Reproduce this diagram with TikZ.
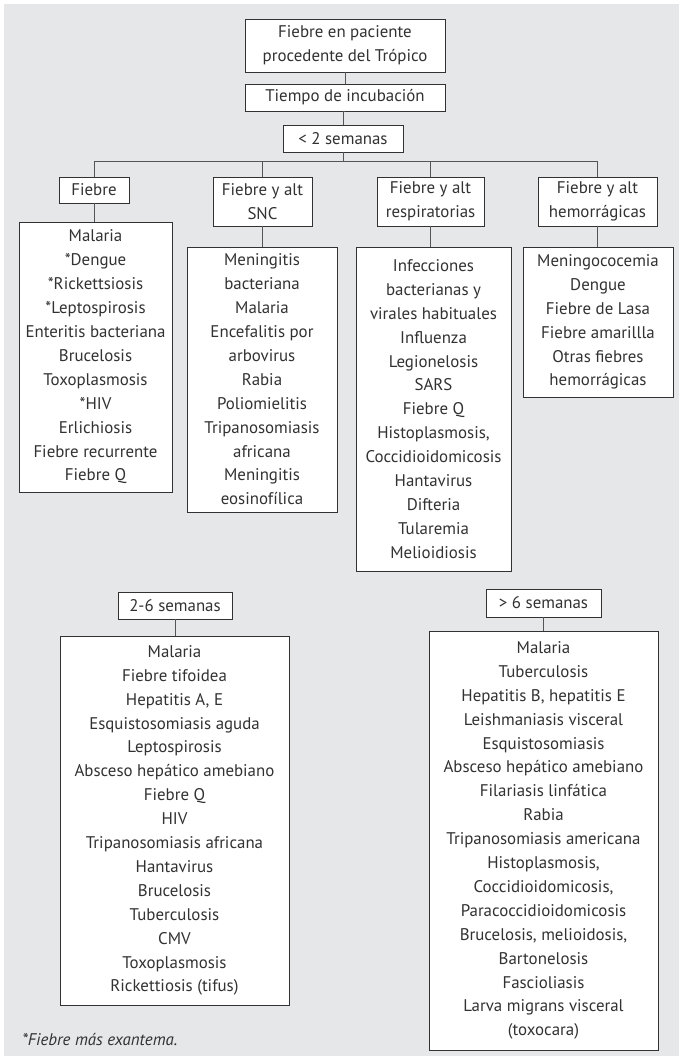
\documentclass[tikz,border=0pt]{standalone}
\usepackage{fontspec}
\setmainfont{PT Sans}
\usetikzlibrary{positioning, calc}
\definecolor{BG}{RGB}{230,231,232}
\definecolor{DG}{RGB}{50,50,50}
\definecolor{LN}{RGB}{85,85,85}

\begin{document}
\begin{tikzpicture}[x=0.025cm, y=-0.025cm,
  box/.style={draw=DG, fill=white, line width=0.7pt, align=center, inner sep=0pt,
              font=\fontsize{12}{17}\selectfont, text=DG},
  sz/.style 2 args={minimum width=#1*0.025cm, minimum height=#2*0.025cm},
  link/.style={draw=LN, line width=0.7pt}
]
% page and grey panel
\useasboundingbox[fill=white] (0,0) rectangle (679,1056);
\fill[BG] (4,4) rectangle (679,1056);

% Top of the tree
\node[box, sz={200}{53}] (top)  at (345,45.5)  {Fiebre en paciente\\procedente del Trópico};
\node[box, sz={200}{27}] (incub) at (345,97.5) {Tiempo de incubación};
\node[box, sz={120}{27}] (wk1)  at (343,138.5) {< 2 semanas};
\coordinate (bus) at (343,161.5);

\draw[link] (top) -- (incub);
\draw[link] (incub.south) -- (incub.south -| wk1) -- (wk1.north);
\draw[link] (wk1.south) -- (bus);

% Groups under < 2 semanas
\node[box, sz={70}{26}]  (h1) at (94,190)    {Fiebre};
\node[box, sz={99}{49}]  (h2) at (262.5,201.5) {Fiebre y alt\\SNC};
\node[box, sz={107}{49}] (h3) at (430.5,201.5) {Fiebre y alt\\respiratorias};
\node[box, sz={119}{49}] (h4) at (597.5,201.5) {Fiebre y alt\\hemorrágicas};

\draw[link] (h1.north |- bus) -- (h4.north |- bus);
\foreach \h in {h1,h2,h3,h4}
  \draw[link] (\h.north) -- (\h.north |- bus);

\node[box, sz={153}{270}] (l1) at (95.5,357) {Malaria\\*Dengue\\*Rickettsiosis\\*Leptospirosis\\
  Enteritis bacteriana\\Brucelosis\\Toxoplasmosis\\*HIV\\Erlichiosis\\Fiebre recurrente\\Fiebre Q};
\node[box, sz={150}{265}] (l2) at (262,379.5) {Meningitis\\bacteriana\\Malaria\\Encefalitis por\\
  arbovirus\\Rabia\\Poliomielitis\\Tripanosomiasis\\africana\\Meningitis\\eosinofílica};
\node[box, sz={155}{324}] (l3) at (433.5,409) {Infecciones\\bacterianas y\\virales habituales\\
  Influenza\\Legionelosis\\SARS\\Fiebre Q\\Histoplasmosis,\\Coccidioidomicosis\\Hantavirus\\
  Difteria\\Tularemia\\Melioidiosis};
\node[box, sz={150}{150}] (l4) at (598,322) {Meningococemia\\Dengue\\Fiebre de Lasa\\
  Fiebre amarillla\\Otras fiebres\\hemorrágicas};

\foreach \n in {1,2,3,4}
  \draw[link] (h\n.south) -- (h\n.south |- l\n.north);

% 2-6 semanas
\node[box, sz={114}{27}]  (wk2) at (175,605.5) {2-6 semanas};
\node[box, sz={229}{369}] (l5)  at (174.5,820.5) {Malaria\\Fiebre tifoidea\\Hepatitis A, E\\
  Esquistosomiasis aguda\\Leptospirosis\\Absceso hepático amebiano\\Fiebre Q\\HIV\\
  Tripanosomiasis africana\\Hantavirus\\Brucelosis\\Tuberculosis\\CMV\\Toxoplasmosis\\
  Rickettiosis (tifus)};
\draw[link] (wk2.south) -- (wk2.south |- l5.north);

% > 6 semanas
\node[box, sz={115}{28}]  (wk3) at (543.5,603) {> 6 semanas};
\node[box, sz={229}{419}] (l6)  at (543.5,840.5) {Malaria\\Tuberculosis\\Hepatitis B, hepatitis E\\
  Leishmaniasis visceral\\Esquistosomiasis\\Absceso hepático amebiano\\Filariasis linfática\\
  Rabia\\Tripanosomiasis americana\\Histoplasmosis,\\Coccidioidomicosis,\\
  Paracoccidioidomicosis\\Brucelosis, melioidosis,\\Bartonelosis\\Fascioliasis\\
  Larva migrans visceral\\(toxocara)};
\draw[link] (wk3) -- (l6);

\node[anchor=west, inner sep=0pt, text=DG, font=\fontsize{12}{14}\selectfont\itshape]
  (note) at (22,1040) {*Fiebre más exantema.};
\end{tikzpicture}
\end{document}
